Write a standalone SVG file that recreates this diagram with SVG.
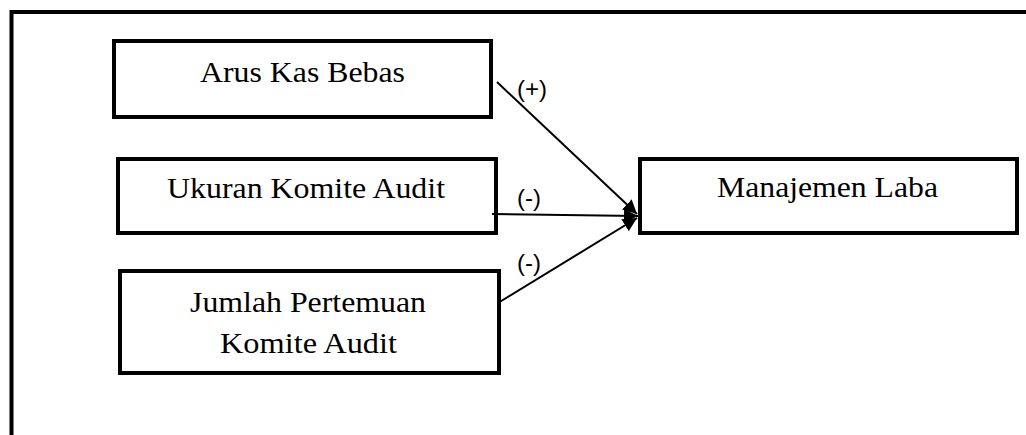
<svg xmlns="http://www.w3.org/2000/svg" width="1026" height="435" viewBox="0 0 1026 435">
<style>
.box{fill:#fff;stroke:#000;stroke-width:4}
.t{font-family:"Liberation Serif","Times New Roman",serif;font-size:29px;fill:#000;text-anchor:middle}
.lbl{font-family:"Liberation Sans",Arial,sans-serif;font-size:24px;fill:#000}
.c{stroke:#000;stroke-width:2;fill:none;marker-end:url(#ah)}
</style>
<defs>
<marker id="ah" markerUnits="userSpaceOnUse" markerWidth="20" markerHeight="20" refX="14" refY="7" orient="auto">
<path d="M0,0 L14,7 L0,14 Z" fill="#000"/>
</marker>
</defs>
<rect width="1026" height="435" fill="#fff"/>
<rect x="11.5" y="12" width="1100" height="500" fill="none" stroke="#000" stroke-width="4"/>
<g id="arus">
<rect class="box" x="114" y="41" width="377" height="76"/>
<text class="t" x="302.5" y="82" textLength="205" lengthAdjust="spacingAndGlyphs">Arus Kas Bebas</text>
</g>
<g id="ukuran">
<rect class="box" x="118" y="159" width="378" height="74"/>
<text class="t" x="306" y="198" textLength="278" lengthAdjust="spacingAndGlyphs">Ukuran Komite Audit</text>
</g>
<g id="jumlah">
<rect class="box" x="120" y="271" width="379" height="102"/>
<text class="t" x="308" y="312" textLength="236" lengthAdjust="spacingAndGlyphs">Jumlah Pertemuan</text>
<text class="t" x="308.5" y="353" textLength="177" lengthAdjust="spacingAndGlyphs">Komite Audit</text>
</g>
<g id="manajemen">
<rect class="box" x="640" y="159" width="377" height="74"/>
<text class="t" x="827.5" y="197" textLength="221" lengthAdjust="spacingAndGlyphs">Manajemen Laba</text>
</g>
<g id="connectors">
<line class="c" x1="497" y1="82" x2="637" y2="214"/>
<line class="c" x1="492" y1="214" x2="638" y2="216"/>
<line class="c" x1="498" y1="303" x2="637" y2="218"/>
<text class="lbl" x="517" y="97">(+)</text>
<text class="lbl" x="517" y="206">(-)</text>
<text class="lbl" x="517" y="271">(-)</text>
</g>
</svg>
